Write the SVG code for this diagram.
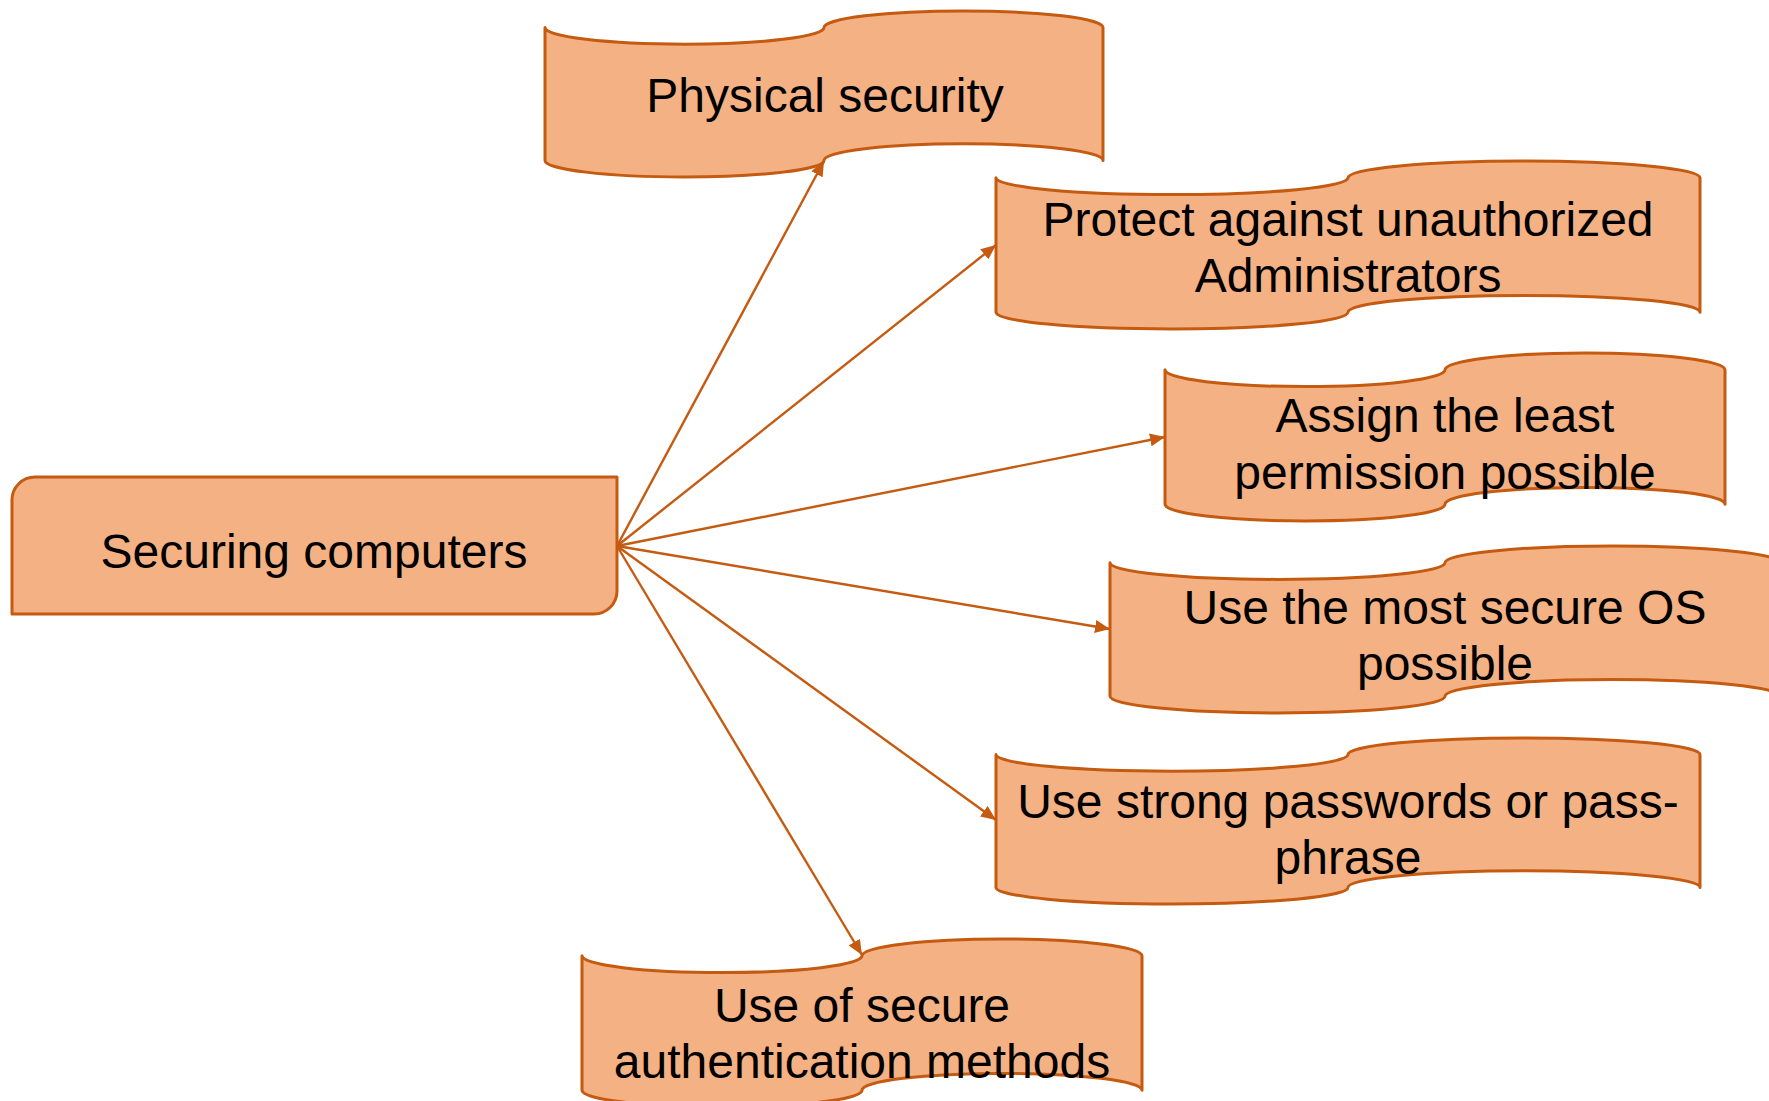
<svg xmlns="http://www.w3.org/2000/svg" width="1769" height="1101" viewBox="0 0 1769 1101">
<style>
.shape{fill:#F4B183;stroke:#C55A11;stroke-width:3;stroke-linejoin:round}
.lbl{font-family:"Liberation Sans",Arial,sans-serif;font-size:48px;fill:#000;text-anchor:middle}
.conn{stroke:#C55A11;stroke-width:2.4;fill:none}
</style>
<defs>
<marker id="arr" markerUnits="userSpaceOnUse" markerWidth="17" markerHeight="13" refX="15" refY="6.5" orient="auto">
<path d="M0,0 L15,6.5 L0,13 Z" fill="#C55A11"/>
</marker>
</defs>
<rect width="1769" height="1101" fill="#FFFFFF"/>
<g id="n-securing">
<path class="shape" d="M35,477 H617 V591 A23,23 0 0 1 594,614 H12 V500 A23,23 0 0 1 35,477 Z"/>
<text class="lbl" x="314" y="568">Securing computers</text>
</g>
<g id="n-physical">
<path class="shape" d="M545,27.6 A139.5,16.6 0 0 0 824,27.6 A139.5,16.6 0 0 1 1103,27.6 L1103,160.4 A139.5,16.6 0 0 0 824,160.4 A139.5,16.6 0 0 1 545,160.4 Z"/>
<text class="lbl" x="825" y="112">Physical security</text>
</g>
<g id="n-protect">
<path class="shape" d="M996,177.8 A176,16.8 0 0 0 1348,177.8 A176,16.8 0 0 1 1700,177.8 L1700,312.2 A176,16.8 0 0 0 1348,312.2 A176,16.8 0 0 1 996,312.2 Z"/>
<text class="lbl" x="1348" y="236">Protect against unauthorized</text>
<text class="lbl" x="1348" y="292">Administrators</text>
</g>
<g id="n-assign">
<path class="shape" d="M1165,369.8 A140,16.8 0 0 0 1445,369.8 A140,16.8 0 0 1 1725,369.8 L1725,504.2 A140,16.8 0 0 0 1445,504.2 A140,16.8 0 0 1 1165,504.2 Z"/>
<text class="lbl" x="1445" y="432">Assign the least</text>
<text class="lbl" x="1445" y="489">permission possible</text>
</g>
<g id="n-os">
<path class="shape" d="M1110,562.7 A167.5,16.7 0 0 0 1445,562.7 A167.5,16.7 0 0 1 1780,562.7 L1780,696.3 A167.5,16.7 0 0 0 1445,696.3 A167.5,16.7 0 0 1 1110,696.3 Z"/>
<text class="lbl" x="1445" y="624">Use the most secure OS</text>
<text class="lbl" x="1445" y="680">possible</text>
</g>
<g id="n-passwords">
<path class="shape" d="M996,754.6 A176,16.6 0 0 0 1348,754.6 A176,16.6 0 0 1 1700,754.6 L1700,887.4 A176,16.6 0 0 0 1348,887.4 A176,16.6 0 0 1 996,887.4 Z"/>
<text class="lbl" x="1348" y="818">Use strong passwords or pass-</text>
<text class="lbl" x="1348" y="874">phrase</text>
</g>
<g id="n-auth">
<path class="shape" d="M582,955.8 A140,16.8 0 0 0 862,955.8 A140,16.8 0 0 1 1142,955.8 L1142,1090.2 A140,16.8 0 0 0 862,1090.2 A140,16.8 0 0 1 582,1090.2 Z"/>
<text class="lbl" x="862" y="1022">Use of secure</text>
<text class="lbl" x="862" y="1078">authentication methods</text>
</g>
<g id="connectors">
<line class="conn" x1="617" y1="546" x2="824" y2="161" marker-end="url(#arr)"/>
<line class="conn" x1="617" y1="546" x2="996" y2="245" marker-end="url(#arr)"/>
<line class="conn" x1="617" y1="546" x2="1165" y2="437" marker-end="url(#arr)"/>
<line class="conn" x1="617" y1="546" x2="1110" y2="629" marker-end="url(#arr)"/>
<line class="conn" x1="617" y1="546" x2="996" y2="820" marker-end="url(#arr)"/>
<line class="conn" x1="617" y1="546" x2="862" y2="955" marker-end="url(#arr)"/>
</g>
</svg>
